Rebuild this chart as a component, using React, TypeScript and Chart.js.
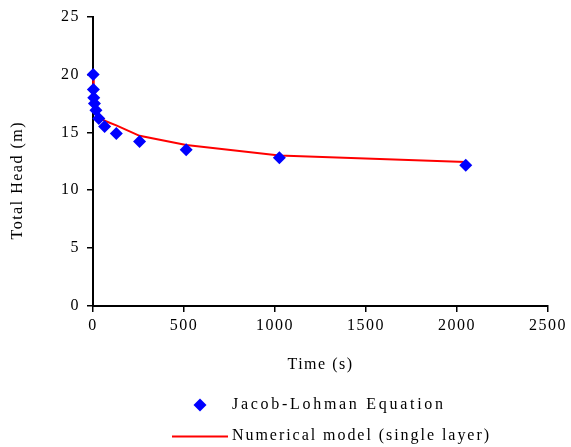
import React, { useEffect, useRef } from "react";
import { Chart, registerables } from "chart.js";

Chart.register(...registerables);

const jacobTime = [1, 2, 4, 8, 16, 32, 64, 128, 256, 512, 1024, 2048];
const jacobHead = [20.0, 18.7, 18.0, 17.5, 16.9, 16.2, 15.5, 14.9, 14.2, 13.5, 12.8, 12.15];

const modelTime = [0, 4, 16, 64, 128, 256, 512, 1024, 2048];
const modelHead = [20.0, 17.3, 16.6, 16.0, 15.6, 14.7, 13.9, 13.0, 12.45];

const legendLabels = ["Jacob-Lohman Equation", "Numerical model (single layer)"];
const xTitle = "Time (s)";
const yTitle = "Total Head (m)";

const FONT = "'Liberation Serif', 'Times New Roman', serif";

function spacedText(ctx: CanvasRenderingContext2D, text: string, x: number, y: number, targetWidth: number, align: "left" | "center") {
  ctx.save();
  (ctx as any).letterSpacing = "0px";
  const w = ctx.measureText(text).width;
  const sp = Math.max(0, (targetWidth - w) / Math.max(1, text.length - 1));
  (ctx as any).letterSpacing = sp + "px";
  ctx.textAlign = "left";
  ctx.textBaseline = "middle";
  const startX = align === "center" ? x - targetWidth / 2 : x;
  ctx.fillText(text, startX, y);
  ctx.restore();
}

export default function App() {
  const ref = useRef<HTMLCanvasElement>(null);

  useEffect(() => {
    const canvas = ref.current!;
    const setSpacing = (chart: any) => {
      (chart.ctx as any).letterSpacing = "1.5px";
    };
    const customPlugin = {
      id: "custom",
      beforeUpdate: setSpacing,
      beforeLayout: setSpacing,
      beforeDraw: setSpacing,
      afterDraw(chart: any) {
        const ctx: CanvasRenderingContext2D = chart.ctx;
        ctx.save();
        ctx.fillStyle = "#000";
        ctx.font = `16px ${FONT}`;
        // y title
        ctx.save();
        ctx.translate(18, 181);
        ctx.rotate(-Math.PI / 2);
        spacedText(ctx, yTitle, 0, 0, 117, "center");
        ctx.restore();
        // legend item 1: diamond
        const r = 6.5;
        ctx.fillStyle = "#0000FF";
        ctx.beginPath();
        ctx.moveTo(200, 405 - r);
        ctx.lineTo(200 + r, 405);
        ctx.lineTo(200, 405 + r);
        ctx.lineTo(200 - r, 405);
        ctx.closePath();
        ctx.fill();
        ctx.fillStyle = "#000";
        spacedText(ctx, legendLabels[0], 232, 405, 211, "left");
        // legend item 2: line
        ctx.strokeStyle = "#FF0000";
        ctx.lineWidth = 2;
        ctx.beginPath();
        ctx.moveTo(172, 436.5);
        ctx.lineTo(228, 436.5);
        ctx.stroke();
        spacedText(ctx, legendLabels[1], 232, 436, 257, "left");
        ctx.restore();
      },
    };

    const chart = new Chart(canvas, {
      type: "scatter",
      data: {
        datasets: [
          {
            label: legendLabels[0],
            data: jacobTime.map((t, i) => ({ x: t, y: jacobHead[i] })),
            pointStyle: "rectRot",
            pointRadius: 6.5,
            pointHoverRadius: 6.5,
            backgroundColor: "#0000FF",
            borderColor: "#0000FF",
            borderWidth: 0,
            showLine: false,
            clip: false,
          },
          {
            label: legendLabels[1],
            data: modelTime.map((t, i) => ({ x: t, y: modelHead[i] })),
            showLine: true,
            pointRadius: 0,
            borderColor: "#FF0000",
            backgroundColor: "#FF0000",
            borderWidth: 2,
            tension: 0,
            clip: false,
          },
        ],
      },
      options: {
        animation: false,
        responsive: false,
        devicePixelRatio: 1,
        layout: { padding: { left: 0, top: 16, right: 22, bottom: 71 } },
        plugins: {
          legend: { display: false },
          tooltip: { enabled: false },
          title: { display: false },
        },
        scales: {
          x: {
            type: "linear",
            min: 0,
            max: 2500,
            afterFit: (s: any) => {
              s.height = 70;
            },
            ticks: {
              stepSize: 500,
              color: "#000",
              padding: 4,
              maxRotation: 0,
              font: { family: FONT, size: 16 },
              callback: (v: any) => String(v),
            },
            grid: {
              drawOnChartArea: false,
              drawTicks: true,
              tickLength: 6,
              color: "#000",
              lineWidth: 1.5,
            },
            border: { display: true, color: "#000", width: 2 },
            title: {
              display: true,
              text: xTitle,
              color: "#000",
              font: { family: FONT, size: 16 },
              padding: { top: 0, bottom: 2 },
            },
          },
          y: {
            type: "linear",
            min: 0,
            max: 25,
            afterFit: (s: any) => {
              s.width = 93;
            },
            ticks: {
              stepSize: 5,
              color: "#000",
              padding: 7,
              font: { family: FONT, size: 16 },
              callback: (v: any) => String(v),
            },
            grid: {
              drawOnChartArea: false,
              drawTicks: true,
              tickLength: 6,
              color: "#000",
              lineWidth: 1.5,
            },
            border: { display: true, color: "#000", width: 2 },
          },
        },
      },
      plugins: [customPlugin],
    });
    return () => chart.destroy();
  }, []);

  return (
    <div style={{ position: "fixed", left: 0, top: 0, width: 571, height: 447, background: "#fff" }}>
      <canvas ref={ref} width={571} height={447} style={{ width: 571, height: 447, display: "block" }} />
    </div>
  );
}
